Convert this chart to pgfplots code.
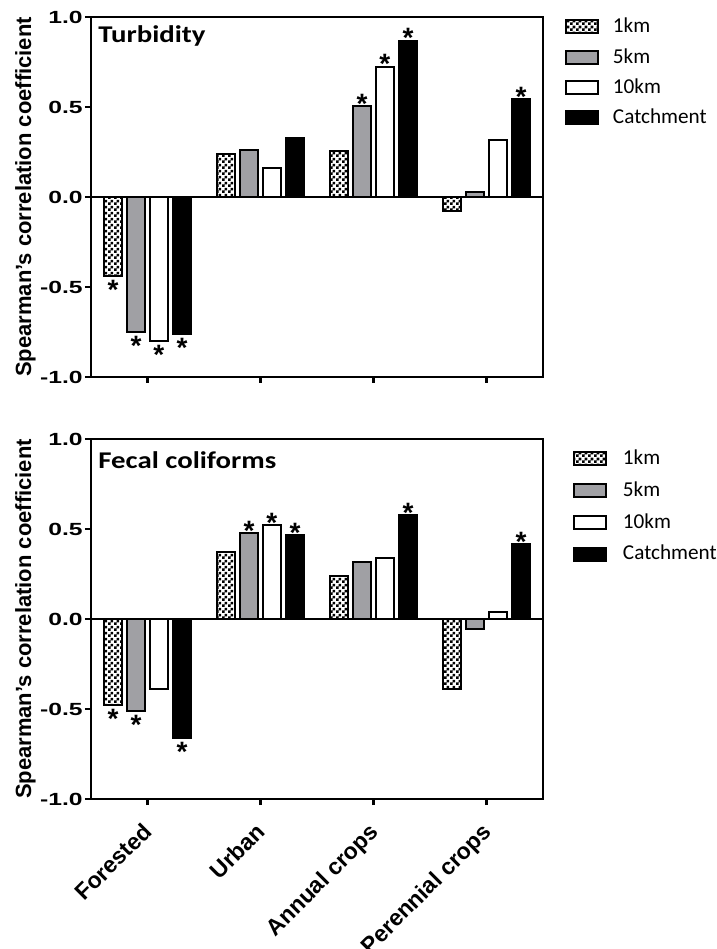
\documentclass[border=0pt]{standalone}
\usepackage{pgfplots}
\pgfplotsset{compat=1.18}
\usepackage{pgfplotstable}
\usepackage{fontspec}
\setmainfont{Liberation Sans}
\newfontfamily\tickfont[FakeStretch=1.4]{Liberation Sans}
\newfontfamily\titlefont[FakeStretch=1.2]{Carlito}
\newfontfamily\legfont{Carlito}
\usetikzlibrary{patterns}
\pgfdeclarepatternformonly{finecheck}{\pgfpointorigin}{\pgfqpoint{3pt}{3pt}}{\pgfqpoint{3pt}{3pt}}{%
 \pgfpathrectangle{\pgfpointorigin}{\pgfqpoint{1.5pt}{1.5pt}}%
 \pgfpathrectangle{\pgfqpoint{1.5pt}{1.5pt}}{\pgfqpoint{1.5pt}{1.5pt}}%
 \pgfusepath{fill}}
\definecolor{bargray}{RGB}{160,160,164}

\pgfplotstableread{
x v1 v5 v10 vc
0 -0.44 -0.75 -0.80 -0.76
1 0.237 0.263 0.16 0.326
2 0.257 0.505 0.724 0.868
3 -0.08 0.026 0.317 0.544
}\turb
\pgfplotstableread{
x v1 v5 v10 vc
0 -0.476 -0.513 -0.389 -0.661
1 0.372 0.478 0.52 0.468
2 0.237 0.317 0.337 0.578
3 -0.389 -0.056 0.037 0.417
}\fecal

\pgfplotsset{
 mylegend/.style={legend image code/.code={\draw[##1, line width=1pt] (0pt,-3.25pt) rectangle (16pt,3.25pt);}},
 s1/.style={draw=black, line width=1pt, pattern=finecheck, pattern color=black, bar shift=-0.305, mylegend},
 s5/.style={draw=black, line width=1pt, fill=bargray, bar shift=-0.10, mylegend},
 s10/.style={draw=black, line width=1pt, fill=white, bar shift=0.10, mylegend},
 sc/.style={draw=black, line width=1pt, fill=black, bar shift=0.305, mylegend},
 star/.style={draw=none, fill=none, forget plot, bar shift=#1,
   nodes near coords={\raisebox{-0.38em}[0.34em][0pt]{*}},
   every node near coord/.append style={font=\bfseries\fontsize{14}{14}\selectfont, inner sep=1.5pt, text=black}},
 panel/.style={
  scale only axis, width=226pt, height=180pt, anchor=south west,
  xmin=-0.5, xmax=3.5, ymin=-1, ymax=1,
  ybar, bar width=0.16,
  xtick={0,1,2,3}, ytick={-1,-0.5,0,0.5,1},
  yticklabels={-1.0,-0.5,0.0,0.5,1.0},
  yticklabel style={font=\tickfont\bfseries\fontsize{8.8}{10}\selectfont, text=black, inner sep=1pt},
  tick align=outside, xtick pos=bottom, ytick pos=left,
  major tick length=3pt,
  tick style={black, line width=1.1pt},
  axis line style={black, line width=1.1pt},
  extra y ticks={0}, extra y tick labels={},
  extra y tick style={grid=major, major grid style={black, line width=1.1pt}, major tick length=0pt},
  ylabel={Spearman's correlation coefficient},
  ylabel style={at={(axis description cs:-0.145,0.5)}, anchor=center, font=\bfseries\fontsize{11}{13}\selectfont},
  legend cell align=left,
 }
}

\begin{document}
\begin{tikzpicture}
\path[use as bounding box] (0,0) rectangle (358.5pt,474.5pt);

\begin{axis}[panel, at={(45.5pt,286pt)}, xticklabels={},
  legend style={at={(1,1)}, anchor=north west, xshift=11pt, yshift=-0.5pt, draw=none, fill=none,
    inner sep=0pt, outer sep=0pt, row sep=6.3pt, column sep=7pt,
    nodes={inner sep=0pt, anchor=west}, font=\legfont\fontsize{10.6}{12}\selectfont}]
\addplot[s1] table[x=x, y=v1] {\turb};
\addplot[s5] table[x=x, y=v5] {\turb};
\addplot[s10] table[x=x, y=v10] {\turb};
\addplot[sc] table[x=x, y=vc] {\turb};
\legend{1km,5km,10km,Catchment}
\addplot[star=-0.305] coordinates {(0,-0.44)};
\addplot[star=-0.10] coordinates {(0,-0.75) (2,0.505)};
\addplot[star=0.10] coordinates {(0,-0.80) (2,0.724)};
\addplot[star=0.305] coordinates {(0,-0.76) (2,0.868) (3,0.544)};
\node[anchor=base west, inner sep=0pt, font=\titlefont\bfseries\fontsize{12}{13}\selectfont] at (rel axis cs:0.0155,0.928) {Turbidity};
\end{axis}

\begin{axis}[panel, at={(45.5pt,75pt)},
  xticklabels={Forested,Urban,Annual crops,Perennial crops},
  xticklabel style={rotate=45, anchor=north east, inner sep=0pt, xshift=-7.7pt, yshift=-3.5pt, font=\bfseries\fontsize{11.5}{12}\selectfont, text=black},
  legend style={at={(1,1)}, anchor=north west, xshift=15pt, yshift=-5.5pt, draw=none, fill=none,
    inner sep=0pt, outer sep=0pt, row sep=7pt, column sep=8pt,
    nodes={inner sep=0pt, anchor=west}, font=\legfont\fontsize{10.6}{12}\selectfont}]
\addplot[s1] table[x=x, y=v1] {\fecal};
\addplot[s5] table[x=x, y=v5] {\fecal};
\addplot[s10] table[x=x, y=v10] {\fecal};
\addplot[sc] table[x=x, y=vc] {\fecal};
\legend{1km,5km,10km,Catchment}
\addplot[star=-0.305] coordinates {(0,-0.476)};
\addplot[star=-0.10] coordinates {(0,-0.513) (1,0.478)};
\addplot[star=0.10] coordinates {(1,0.52)};
\addplot[star=0.305] coordinates {(0,-0.661) (1,0.468) (2,0.578) (3,0.417)};
\node[anchor=base west, inner sep=0pt, font=\titlefont\bfseries\fontsize{12}{13}\selectfont] at (rel axis cs:0.0155,0.919) {Fecal coliforms};
\end{axis}
\end{tikzpicture}
\end{document}
